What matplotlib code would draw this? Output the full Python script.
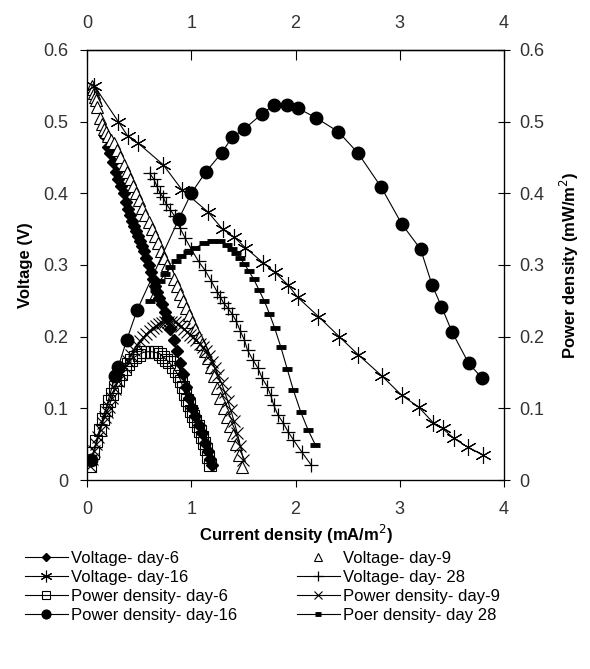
import matplotlib
matplotlib.use("Agg")
import matplotlib.pyplot as plt
from matplotlib.ticker import FixedLocator, FuncFormatter

plt.rcParams['font.family'] = ['Liberation Sans', 'DejaVu Sans']

# current density (mA/m2) / voltage (V) / power density (mW/m2)
v6_x = [0.17, 0.20, 0.22, 0.25, 0.28, 0.30, 0.33, 0.35, 0.37, 0.39, 0.41, 0.43, 0.45, 0.47, 0.49,
        0.51, 0.53, 0.55, 0.57, 0.59, 0.61, 0.63, 0.65, 0.67, 0.69, 0.72, 0.75, 0.77, 0.80, 0.83,
        0.86, 0.89, 0.92, 0.95, 0.98, 1.01, 1.04, 1.07, 1.10, 1.13, 1.16, 1.18, 1.20]
v6_y = [0.48, 0.465, 0.456, 0.443, 0.43, 0.42, 0.41, 0.40, 0.388, 0.378, 0.37, 0.362, 0.355, 0.347, 0.34,
        0.333, 0.327, 0.32, 0.31, 0.30, 0.29, 0.28, 0.27, 0.262, 0.254, 0.245, 0.235, 0.226, 0.21, 0.195,
        0.18, 0.163, 0.148, 0.13, 0.115, 0.10, 0.09, 0.077, 0.065, 0.052, 0.04, 0.03, 0.021]

v9_x = [0.05, 0.06, 0.07, 0.08, 0.09, 0.10, 0.12, 0.14, 0.16, 0.18, 0.20, 0.23, 0.26, 0.29, 0.32,
        0.35, 0.38, 0.41, 0.44, 0.47, 0.50, 0.53, 0.56, 0.59, 0.62, 0.65, 0.68, 0.71, 0.74, 0.77,
        0.80, 0.83, 0.86, 0.89, 0.92, 0.95, 0.98, 1.01, 1.04, 1.07, 1.10, 1.13, 1.16, 1.19, 1.22,
        1.25, 1.28, 1.31, 1.34, 1.37, 1.40, 1.43, 1.46, 1.49]
v9_y = [0.55, 0.545, 0.54, 0.535, 0.53, 0.52, 0.505, 0.497, 0.49, 0.485, 0.48, 0.475, 0.47, 0.46, 0.45,
        0.44, 0.43, 0.42, 0.41, 0.40, 0.39, 0.38, 0.37, 0.36, 0.35, 0.34, 0.33, 0.32, 0.31, 0.30,
        0.29, 0.28, 0.27, 0.26, 0.25, 0.24, 0.23, 0.22, 0.21, 0.20, 0.19, 0.18, 0.17, 0.157, 0.145,
        0.128, 0.114, 0.10, 0.088, 0.075, 0.063, 0.05, 0.035, 0.018]

v16_x = [0.07, 0.30, 0.39, 0.49, 0.73, 0.91, 1.16, 1.30, 1.41, 1.52, 1.69, 1.80, 1.93,
         2.02, 2.22, 2.42, 2.60, 2.83, 3.02, 3.18, 3.32, 3.41, 3.52, 3.65, 3.80]
v16_y = [0.55, 0.50, 0.48, 0.47, 0.44, 0.405, 0.374, 0.35, 0.339, 0.324, 0.303, 0.29, 0.272,
         0.255, 0.228, 0.20, 0.175, 0.145, 0.118, 0.102, 0.080, 0.072, 0.058, 0.046, 0.035]

v28_x = [0.60, 0.64, 0.67, 0.70, 0.73, 0.76, 0.80, 0.84, 0.89, 0.94, 1.00, 1.07, 1.13, 1.19, 1.25,
         1.28, 1.31, 1.35, 1.39, 1.43, 1.47, 1.51, 1.54, 1.59, 1.64, 1.68, 1.73, 1.76, 1.79,
         1.83, 1.88, 1.93, 1.98, 2.06, 2.15]
v28_y = [0.428, 0.42, 0.41, 0.40, 0.395, 0.385, 0.377, 0.368, 0.352, 0.338, 0.322, 0.305, 0.293, 0.278, 0.262,
         0.255, 0.247, 0.240, 0.232, 0.222, 0.208, 0.195, 0.181, 0.168, 0.156, 0.142, 0.13, 0.119, 0.105,
         0.091, 0.08, 0.067, 0.056, 0.039, 0.021]

p6_x = [0.03, 0.06, 0.09, 0.12, 0.15, 0.18, 0.21, 0.24, 0.27, 0.30, 0.33, 0.36, 0.39, 0.42,
        0.46, 0.50, 0.54, 0.58, 0.62, 0.66, 0.70, 0.73, 0.76, 0.79, 0.82, 0.85, 0.88,
        0.90, 0.92, 0.94, 0.96, 0.98, 1.00, 1.02, 1.04, 1.06, 1.08, 1.10, 1.12, 1.14, 1.16, 1.18]
p6_y = [0.02, 0.038, 0.055, 0.07, 0.085, 0.098, 0.11, 0.12, 0.13, 0.14, 0.148, 0.155, 0.162, 0.167,
        0.172, 0.175, 0.178, 0.179, 0.179, 0.178, 0.176, 0.172, 0.168, 0.164, 0.158, 0.152, 0.145,
        0.138, 0.13, 0.12, 0.112, 0.104, 0.096, 0.09, 0.083, 0.076, 0.068, 0.06, 0.052, 0.043, 0.032, 0.021]

p9_x = [0.03, 0.05, 0.07, 0.09, 0.11, 0.13, 0.15, 0.17, 0.19, 0.21,
        0.24, 0.27, 0.30, 0.33, 0.36, 0.39, 0.42, 0.45, 0.48, 0.51, 0.54, 0.57, 0.60, 0.63, 0.66,
        0.69, 0.72, 0.75, 0.78, 0.81, 0.84, 0.87, 0.90, 0.93, 0.96, 0.99, 1.02, 1.05, 1.08, 1.11,
        1.14, 1.17, 1.20, 1.23, 1.26, 1.29, 1.32, 1.35, 1.38, 1.41, 1.44, 1.47, 1.50]
p9_y = [0.02, 0.03, 0.04, 0.05, 0.06, 0.07, 0.08, 0.088, 0.095, 0.102,
        0.115, 0.127, 0.138, 0.148, 0.158, 0.166, 0.174, 0.181, 0.188, 0.194, 0.199, 0.204, 0.208, 0.212, 0.215,
        0.217, 0.219, 0.22, 0.221, 0.221, 0.22, 0.218, 0.215, 0.211, 0.207, 0.203, 0.199, 0.195, 0.19, 0.185,
        0.18, 0.173, 0.165, 0.156, 0.146, 0.135, 0.123, 0.11, 0.097, 0.082, 0.066, 0.048, 0.028]

p16_x = [0.04, 0.27, 0.30, 0.38, 0.48, 0.88, 1.00, 1.14, 1.29, 1.39, 1.51, 1.68, 1.79, 1.92,
         2.02, 2.20, 2.41, 2.60, 2.82, 3.02, 3.20, 3.31, 3.40, 3.50, 3.66, 3.79]
p16_y = [0.028, 0.145, 0.158, 0.195, 0.237, 0.364, 0.40, 0.43, 0.456, 0.478, 0.49, 0.511, 0.523, 0.523,
         0.519, 0.505, 0.486, 0.456, 0.409, 0.357, 0.322, 0.272, 0.242, 0.207, 0.163, 0.142]

p28_x = [0.60, 0.65, 0.70, 0.75, 0.80, 0.85, 0.90, 0.97, 1.04, 1.12, 1.20, 1.28, 1.34, 1.39, 1.43,
         1.47, 1.51, 1.55, 1.60, 1.65, 1.70, 1.75, 1.80, 1.86, 1.92, 1.98, 2.05, 2.12, 2.19]
p28_y = [0.25, 0.265, 0.278, 0.288, 0.297, 0.305, 0.312, 0.318, 0.324, 0.330, 0.333, 0.333, 0.328, 0.323, 0.317,
         0.310, 0.301, 0.292, 0.280, 0.265, 0.250, 0.232, 0.212, 0.185, 0.155, 0.125, 0.095, 0.07, 0.049]

x_ticks = [0, 1, 2, 3, 4]
y_ticks = [0, 0.1, 0.2, 0.3, 0.4, 0.5, 0.6]

fig = plt.figure(figsize=(5.9, 6.69), dpi=100)
ax = fig.add_axes([0.1475, 0.2825, 0.7068, 0.6428])

lw = 0.8
k = dict(color='black', linewidth=lw)
h_v6, = ax.plot(v6_x, v6_y, marker='D', markersize=6, **k, label='Voltage- day-6')
h_v9, = ax.plot(v9_x, v9_y, linestyle='none', marker='^', markersize=9, markerfacecolor='white',
                markeredgecolor='black', markeredgewidth=0.8, label='Voltage- day-9')
h_v16, = ax.plot(v16_x, v16_y, marker=(6, 2, 0), markersize=12, markeredgewidth=0.8, **k,
                 label='Voltage- day-16')
h_v28, = ax.plot(v28_x, v28_y, marker='+', markersize=10, markeredgewidth=0.9, **k, label='Voltage- day- 28')
h_p6, = ax.plot(p6_x, p6_y, marker='s', markersize=9, markerfacecolor='none', markeredgewidth=0.8, **k,
                label='Power density- day-6')
h_p9, = ax.plot(p9_x, p9_y, marker='x', markersize=8, markeredgewidth=0.8, **k, label='Power density- day-9')
h_p16, = ax.plot(p16_x, p16_y, marker='o', markersize=9, **k, label='Power density- day-16')
h_p28, = ax.plot(p28_x, p28_y, marker='_', markersize=7, markeredgewidth=3.5, **k, label='Poer density- day 28')

ax.set_xlim(0, 4)
ax.set_ylim(0, 0.6)
fmt = FuncFormatter(lambda v, p: '%g' % round(v, 2))
ax.xaxis.set_major_locator(FixedLocator(x_ticks))
ax.yaxis.set_major_locator(FixedLocator(y_ticks))
ax.xaxis.set_major_formatter(fmt)
ax.yaxis.set_major_formatter(fmt)
ax.tick_params(axis='x', direction='out', length=5, width=0.8, labelsize=13, pad=10, labelcolor='#333333')
ax.tick_params(axis='y', direction='out', length=5, width=0.8, labelsize=13, pad=8.5, labelcolor='#333333')
for s in ax.spines.values():
    s.set_linewidth(0.9)

top = ax.secondary_xaxis('top')
top.xaxis.set_major_locator(FixedLocator(x_ticks))
top.xaxis.set_major_formatter(fmt)
top.tick_params(axis='x', direction='in', length=7, width=0.8, labelsize=13, pad=13, labelcolor='#333333')
top.spines['top'].set_linewidth(0.9)

ax2 = ax.twinx()
ax2.set_ylim(0, 0.6)
ax2.yaxis.set_major_locator(FixedLocator(y_ticks))
ax2.yaxis.set_major_formatter(fmt)
ax2.tick_params(axis='y', direction='inout', length=8, width=0.8, labelsize=13, pad=7, labelcolor='#333333')

ax.set_xlabel('Current density (mA/m$^{2}$)', fontsize=12, fontweight='bold', labelpad=4)
ax.set_ylabel('Voltage (V)', fontsize=12, fontweight='bold', labelpad=7)
ax2.set_ylabel('Power density (mW/m$^{2}$)', fontsize=12, fontweight='bold', labelpad=10)

handles = [h_v6, h_v16, h_p6, h_p16, h_v9, h_v28, h_p9, h_p28]
fig.legend(handles=handles, labels=[h.get_label() for h in handles], ncol=2, frameon=False,
           loc='upper left', bbox_to_anchor=(0.042, 0.177), fontsize=12, handlelength=2.6,
           handletextpad=0.15, columnspacing=3.6, labelspacing=0.25, markerscale=0.7,
           borderaxespad=0, borderpad=0)

fig.savefig('out.png', dpi=100)
